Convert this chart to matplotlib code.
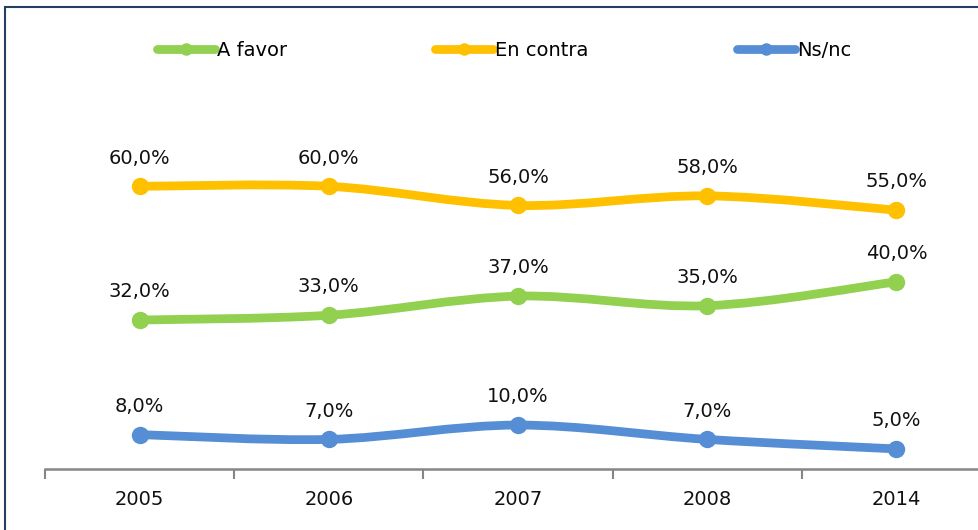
import matplotlib.pyplot as plt
import numpy as np
from matplotlib.path import Path
from matplotlib.patches import PathPatch, Rectangle
from matplotlib.lines import Line2D

years = ['2005', '2006', '2007', '2008', '2014']
a_favor = [32.0, 33.0, 37.0, 35.0, 40.0]
en_contra = [60.0, 60.0, 56.0, 58.0, 55.0]
ns_nc = [8.0, 7.0, 10.0, 7.0, 5.0]

series = [
    ('A favor', a_favor, '#92D050'),
    ('En contra', en_contra, '#FFC000'),
    ('Ns/nc', ns_nc, '#558ED5'),
]


def smooth_path(x, y):
    # Bezier curve through the points, like Excel's smoothed line
    pts = np.column_stack([x, y]).astype(float)
    verts = [pts[0]]
    codes = [Path.MOVETO]
    n = len(pts)
    for i in range(n - 1):
        p0 = pts[i - 1] if i > 0 else pts[i]
        p1 = pts[i]
        p2 = pts[i + 1]
        p3 = pts[i + 2] if i + 2 < n else pts[i + 1]
        c1 = p1 + (p2 - p0) / 6.0
        c2 = p2 - (p3 - p1) / 6.0
        verts += [c1, c2, p2]
        codes += [Path.CURVE4] * 3
    return Path(verts, codes)


plt.rcParams['font.family'] = 'DejaVu Sans'
fig = plt.figure(figsize=(9.79, 5.30), dpi=100)
ax = fig.add_axes([45 / 979, 1 - 469 / 530, 946 / 979, 382 / 530])
ax.set_xlim(-0.5, len(years) - 0.5)
ax.set_ylim(0.8, 80.8)

x = np.arange(len(years))
handles = []
for name, vals, color in series:
    patch = PathPatch(smooth_path(x, vals), facecolor='none', edgecolor=color,
                      lw=6.3, capstyle='round', joinstyle='round', zorder=2)
    ax.add_patch(patch)
    ax.plot(x, vals, ls='none', marker='o', ms=11.5, color=color, zorder=3)
    for xi, v in zip(x, vals):
        ax.annotate(f'{v:.1f}%'.replace('.', ','), (xi, v), xytext=(0, 13.5),
                    textcoords='offset points', ha='center', va='bottom',
                    fontsize=14, color='#111111')
    handles.append(Line2D([], [], color=color, lw=6.3, marker='o', ms=8,
                          solid_capstyle='round'))

for side in ['top', 'right', 'left']:
    ax.spines[side].set_visible(False)
ax.spines['bottom'].set_color('#868686')
ax.spines['bottom'].set_linewidth(1.8)
ax.set_yticks([])
ax.set_xticks(x)
ax.set_xticklabels(years, fontsize=14, color='#111111')
ax.tick_params(axis='x', which='major', length=0, pad=15)
ax.set_xticks(np.arange(-0.5, len(years), 1.0), minor=True)
ax.tick_params(axis='x', which='minor', length=7, width=1.5, color='#868686')

fig.legend(handles, [s[0] for s in series], loc='center',
           bbox_to_anchor=(504 / 979, 1 - 50 / 530), ncol=3, frameon=False,
           fontsize=14, handlelength=3.0, handletextpad=0.1,
           columnspacing=7.6)

fig.patches.append(Rectangle((5 / 979, -0.5), 2.0, 0.5 + 1 - 7 / 530,
                             transform=fig.transFigure, facecolor='none',
                             edgecolor='#243F60', lw=1.5))

fig.savefig('out.png', dpi=100)
